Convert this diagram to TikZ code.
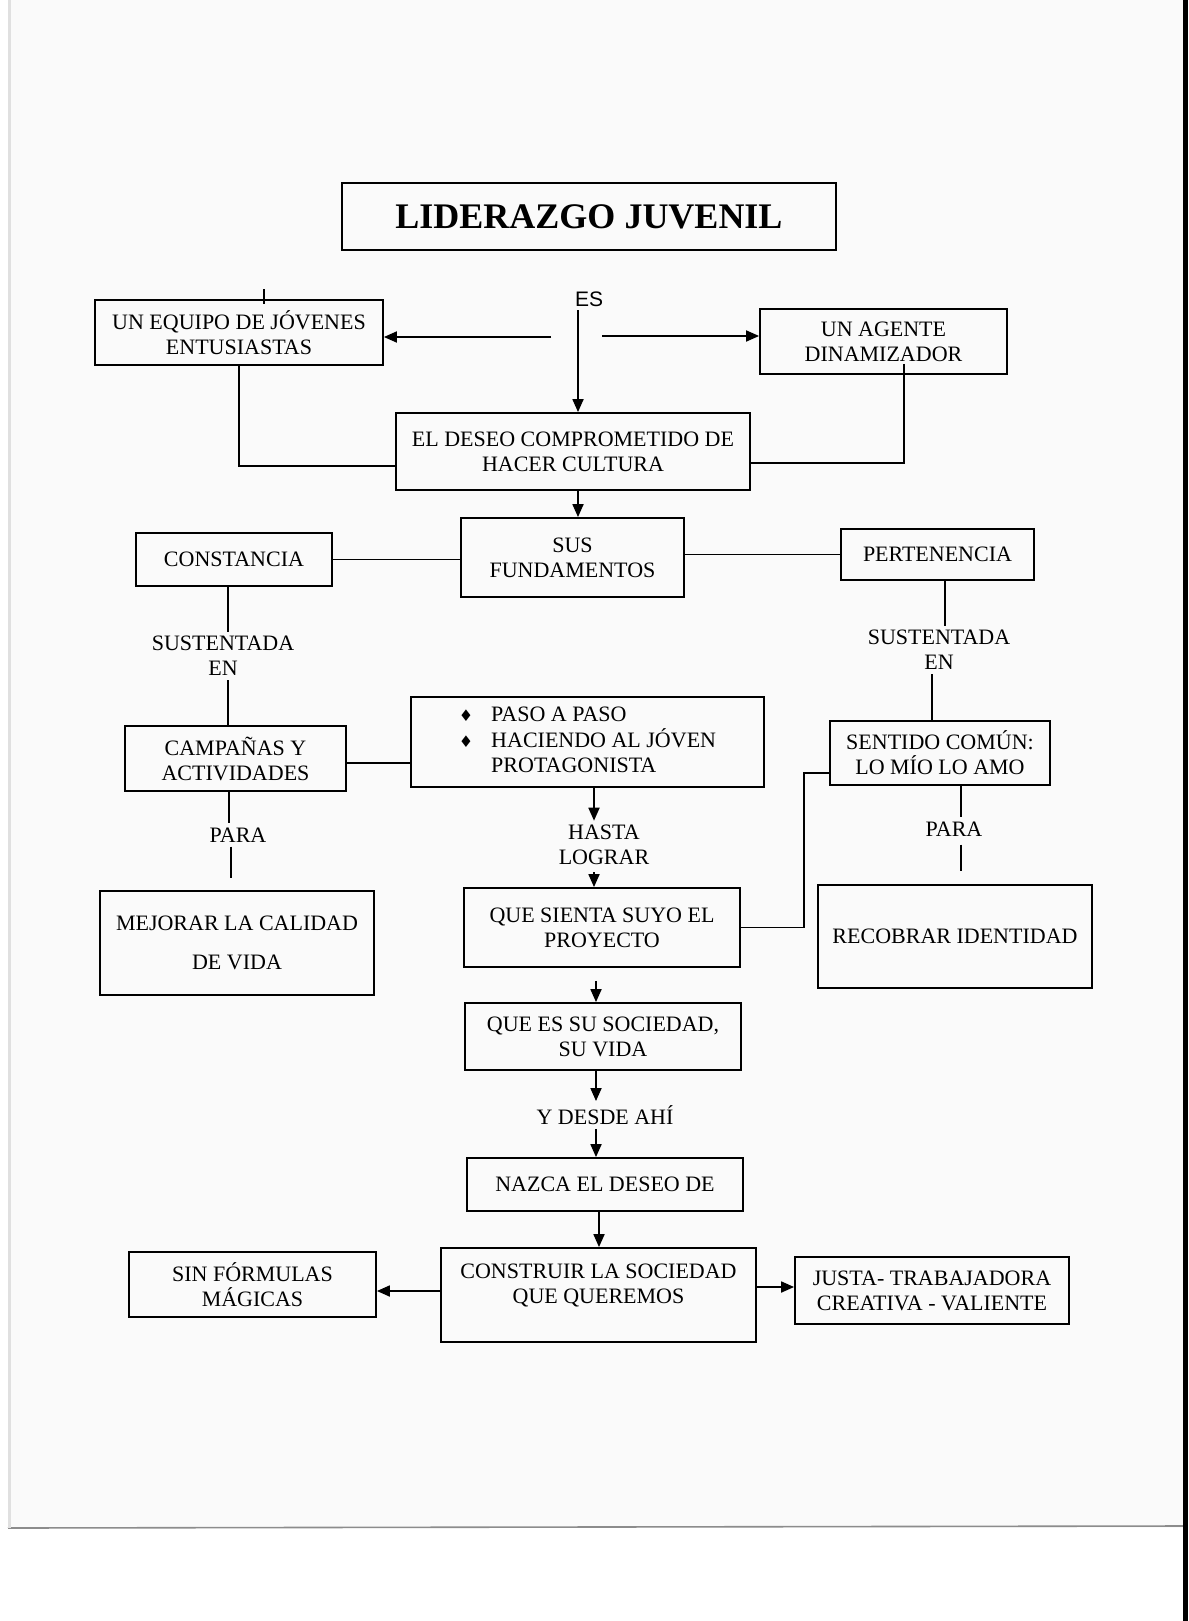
\documentclass[tikz,border=0pt]{standalone}
\usepackage{fontspec}
\setmainfont{Liberation Serif}
\newfontfamily\sansES{Liberation Sans}
\newfontfamily\symb{DejaVu Sans}
\usetikzlibrary{arrows.meta,calc}
\begin{document}
\begin{tikzpicture}[x=0.5pt,y=-0.5pt,
  box/.style={draw, line width=0.9pt, align=center, inner sep=2pt, font=\fontsize{11}{12.5}\selectfont},
  lbl/.style={align=center, inner sep=2pt, font=\fontsize{11}{12.5}\selectfont},
  ln/.style={line width=0.9pt},
  arr/.style={line width=0.9pt, -{Triangle[length=6.5pt,width=5.5pt]}},
]
\useasboundingbox[fill=white] (0,0) rectangle (1188,1621);
% paper of the scan
\fill[black!2] (8,0) rectangle (1183,1528);
\draw[black!45, line width=0.8pt] (8,1528) -- (1183,1526);
\draw[black!12, line width=1.5pt] (9,0) -- (9,1528);
\fill[black] (1183,0) rectangle (1188,1621);

% boxes
\node[box, minimum width=247pt, minimum height=33.5pt, font=\bfseries\fontsize{18}{20}\selectfont] (title) at (589,216.5) {LIDERAZGO JUVENIL};
\node[box, minimum width=144pt, minimum height=32.5pt] (equipo) at (239,332.5) {UN EQUIPO DE JÓVENES\\ENTUSIASTAS};
\node[box, minimum width=123.5pt, minimum height=32.5pt] (agente) at (883.5,341.5) {UN AGENTE\\DINAMIZADOR};
\node[box, minimum width=177pt, minimum height=38.5pt] (deseo) at (573,451.5) {EL DESEO COMPROMETIDO DE\\HACER CULTURA};
\node[lbl, font=\sansES\fontsize{10.5}{12}\selectfont] (es) at (589,299) {ES};
\node[box, minimum width=111.5pt, minimum height=39.5pt] (sus) at (572.5,557.5) {SUS\\FUNDAMENTOS};
\node[box, minimum width=98pt, minimum height=26.5pt] (constancia) at (234,559.5) {CONSTANCIA};
\node[box, minimum width=96.5pt, minimum height=25.5pt] (pertenencia) at (937.5,554.5) {PERTENENCIA};
\node[lbl] (sustL) at (223,656) {SUSTENTADA\\EN};
\node[lbl] (sustR) at (939,650) {SUSTENTADA\\EN};
\node[box, minimum width=110.5pt, minimum height=32.5pt] (campanas) at (235.5,758.5) {CAMPAÑAS Y\\ACTIVIDADES};
\node[box, minimum width=176.5pt, minimum height=45pt] (paso) at (587.5,742)
  {\begin{tabular}{@{}l@{\hspace{9pt}}l@{}}
   {\symb\fontsize{8}{8}\selectfont ♦} & PASO A PASO\\
   {\symb\fontsize{8}{8}\selectfont ♦} & HACIENDO AL JÓVEN\\
   & PROTAGONISTA
   \end{tabular}};
\node[box, minimum width=110pt, minimum height=32pt] (sentido) at (940,753) {SENTIDO COMÚN:\\LO MÍO LO AMO};
\node[lbl] (paraL) at (238,835) {PARA};
\node[lbl] (paraR) at (954,829) {PARA};
\node[lbl] (hasta) at (604,845) {HASTA\\LOGRAR};
\node[box, minimum width=137pt, minimum height=52pt] (mejorar) at (237,943) {MEJORAR LA CALIDAD\\[7pt]DE VIDA};
\node[box, minimum width=138pt, minimum height=39.5pt] (sienta) at (602,927.5) {QUE SIENTA SUYO EL\\PROYECTO};
\node[box, minimum width=137pt, minimum height=51.5pt] (recobrar) at (955,936.5) {RECOBRAR IDENTIDAD};
\node[box, minimum width=138pt, minimum height=33.5pt] (quees) at (603,1036.5) {QUE ES SU SOCIEDAD,\\SU VIDA};
\node[lbl] (desde) at (605,1115) {Y DESDE AHÍ};
\node[box, minimum width=138pt, minimum height=26.5pt] (nazca) at (605,1184.5) {NAZCA EL DESEO DE};
\node[box, minimum width=157.5pt, minimum height=47pt] (construir) at (598.5,1295) {CONSTRUIR LA SOCIEDAD\\QUE QUEREMOS\\[-1pt]};
\node[box, minimum width=123.5pt, minimum height=32.5pt] (sin) at (252.5,1284.5) {SIN FÓRMULAS\\MÁGICAS};
\node[box, minimum width=137pt, minimum height=33.5pt] (justa) at (932,1290.5) {JUSTA- TRABAJADORA\\CREATIVA - VALIENTE};

% connectors from ES
\coordinate (esA) at (578,310);
\draw[arr] (esA) -- (esA |- deseo.north);
\coordinate (esL) at (551,337);
\draw[arr] (esL) -- (esL -| equipo.east);
\coordinate (esR) at (602,336);
\draw[arr] (esR) -- (esR -| agente.west);
\coordinate (tick) at (264,289);
\draw[ln] (tick) -- (tick |- equipo.north) -- ++(0,5);

\draw[ln] (equipo.south) |- ($(deseo.west)+(0,14.5)$);
\draw[ln] ($(agente.south)+(20.5,-11)$) |- ($(deseo.east)+(0,11.5)$);
\draw[arr] ($(deseo.south)+(5,0)$) -- ($(sus.north)+(5.5,0)$);

% fundamentos
\draw[ln] (constancia.east) -- (constancia.east -| sus.west);
\draw[ln] (pertenencia.west -| sus.east) -- (pertenencia.west);
\coordinate (cl1) at ($(constancia.south)+(-6,0)$);
\draw[ln] (cl1) -- (cl1 |- sustL.north);
\draw[ln] (cl1 |- sustL.south) -- (cl1 |- campanas.north);
\coordinate (pr1) at ($(pertenencia.south)+(7.5,0)$);
\draw[ln] (pr1) -- (pr1 |- sustR.north);
\coordinate (pr2) at ($(sentido.north)+(-8,0)$);
\draw[ln] (pr2 |- sustR.south) -- (pr2);

% middle row
\coordinate (cp) at ($(campanas.east)+(0,4.5)$);
\draw[ln] (cp) -- (cp -| paso.west);
\coordinate (cd) at ($(campanas.south)+(-6.5,0)$);
\draw[ln] (cd) -- (cd |- paraL.north);
\coordinate (cd2) at ($(paraL.south)+(-7,0)$);
\draw[ln] (cd2) -- ++(0,31);
\coordinate (pa) at ($(paso.south)+(6.5,0)$);
\draw[arr] (pa) -- (pa |- hasta.north);
\draw[arr] ($(pa |- hasta.south)+(0,3)$) -- (pa |- sienta.north);
\draw[ln] ($(sentido.west)+(0,20)$) -- ++(-25,0) |- (sienta.east);
\coordinate (sd) at ($(sentido.south)+(21,0)$);
\draw[ln] (sd) -- (sd |- paraR.north);
\coordinate (sd2) at ($(sd |- paraR.south)+(0,4)$);
\draw[ln] (sd2) -- ++(0,26);

% lower chain
\coordinate (sq) at ($(sienta.south)+(-6,13)$);
\draw[arr] (sq) -- (sq |- quees.north);
\coordinate (qd) at ($(quees.south)+(-7,0)$);
\draw[arr] (qd) -- (qd |- desde.north);
\draw[arr] (qd |- desde.south) -- (qd |- nazca.north);
\coordinate (nc) at ($(nazca.south)+(-6,0)$);
\draw[arr] (nc) -- (nc |- construir.north);
\coordinate (cs) at ($(construir.west)+(0,-4)$);
\draw[arr] (cs) -- (cs -| sin.east);
\coordinate (cj) at ($(construir.east)+(0,-8)$);
\draw[arr] (cj) -- (cj -| justa.west);
\end{tikzpicture}
\end{document}
